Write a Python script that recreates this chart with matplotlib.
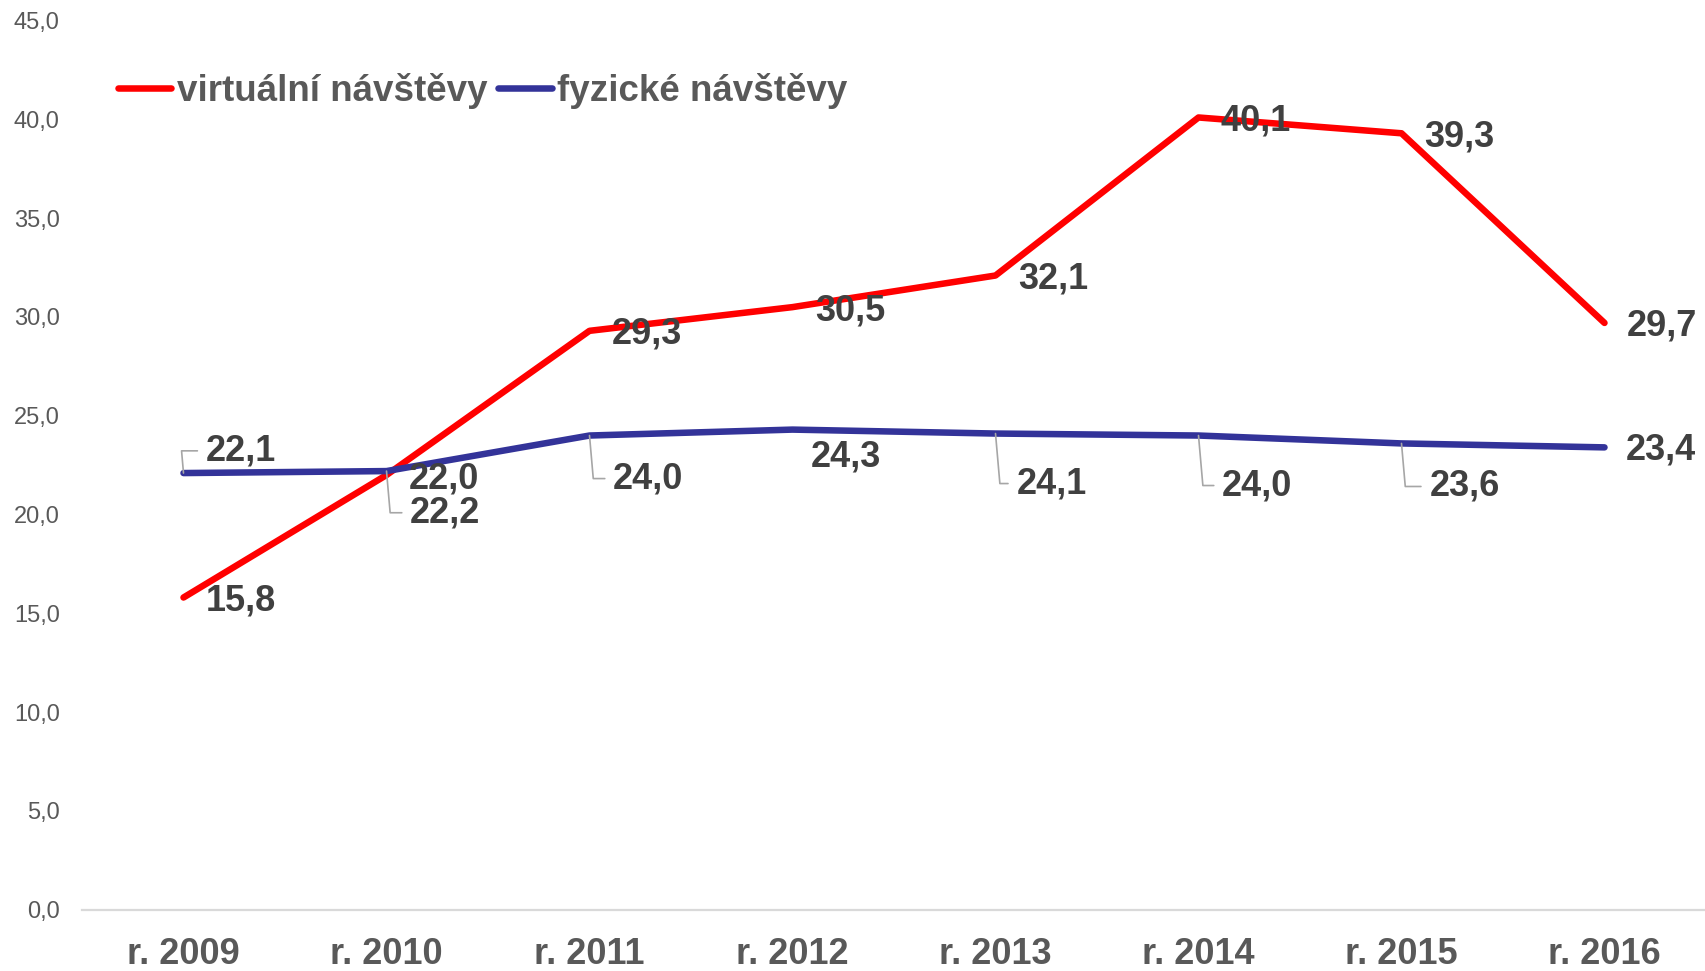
import matplotlib.pyplot as plt

plt.rcParams['font.family'] = ['Liberation Sans', 'DejaVu Sans']

# data
years = ['r. 2009', 'r. 2010', 'r. 2011', 'r. 2012', 'r. 2013', 'r. 2014', 'r. 2015', 'r. 2016']
virtual = [15.8, 22.0, 29.3, 30.5, 32.1, 40.1, 39.3, 29.7]
physical = [22.1, 22.2, 24.0, 24.3, 24.1, 24.0, 23.6, 23.4]

# label offsets in points (dx, dy) and whether a leader line is drawn
virt_off = [(16, -2.5)] * 8
phys_off = [(16, 16), (17, -30), (17, -31), (13, -20), (15, -36), (17, -36), (20, -31), (15, -2)]
phys_leader = [True, True, True, False, True, True, True, False]

fig = plt.figure(figsize=(17.06, 9.71), dpi=100)
ax = fig.add_axes([82 / 1706, 0.0632, 1 - 82 / 1706, 0.9787 - 0.0632])

x = list(range(len(years)))
ax.plot(x, virtual, color='#FF0000', lw=4.7, solid_capstyle='round',
        solid_joinstyle='round', label='virtuální návštěvy', zorder=3)
ax.plot(x, physical, color='#333399', lw=4.7, solid_capstyle='round',
        solid_joinstyle='round', label='fyzické návštěvy', zorder=3)

# data labels
for i, v in enumerate(virtual):
    ax.annotate(f'{v:.1f}'.replace('.', ','), (i, v), xytext=virt_off[i],
                textcoords='offset points', ha='left', va='center',
                fontsize=26, fontweight='bold', color='#404040', zorder=4)

for i, v in enumerate(physical):
    props = None
    if phys_leader[i]:
        props = dict(arrowstyle='-', color='#A6A6A6', lw=1.2, relpos=(0, 0.5),
                     shrinkA=4, shrinkB=0,
                     connectionstyle='angle,angleA=180,angleB=95,rad=0')
    ax.annotate(f'{v:.1f}'.replace('.', ','), (i, v), xytext=phys_off[i],
                textcoords='offset points', ha='left', va='center',
                fontsize=26, fontweight='bold', color='#404040',
                arrowprops=props, zorder=4)

# axes styling
ax.set_xlim(-0.5, len(years) - 0.5)
ax.set_ylim(0, 45)
ax.set_yticks(range(0, 50, 5))
ax.set_yticklabels([f'{t:.1f}'.replace('.', ',') for t in range(0, 50, 5)])
ax.set_xticks(x)
ax.set_xticklabels(years, fontweight='bold')
ax.tick_params(axis='y', length=0, pad=16, labelsize=17, labelcolor='#595959')
ax.tick_params(axis='x', length=0, pad=20, labelsize=26, labelcolor='#595959')
for s in ['top', 'right', 'left']:
    ax.spines[s].set_visible(False)
ax.spines['bottom'].set_color('#D9D9D9')
ax.spines['bottom'].set_linewidth(1.6)
ax.patch.set_alpha(0)

leg = ax.legend(loc='center left', bbox_to_anchor=(0.022, 0.921), ncol=2,
                frameon=False, fontsize=26.5, handlelength=1.45, handletextpad=0.15,
                columnspacing=0.3, borderpad=0, borderaxespad=0)
for t in leg.get_texts():
    t.set_color('#595959')
    t.set_fontweight('bold')
for h in leg.get_lines():
    h.set_solid_capstyle('round')

plt.savefig('out.png', dpi=100)
